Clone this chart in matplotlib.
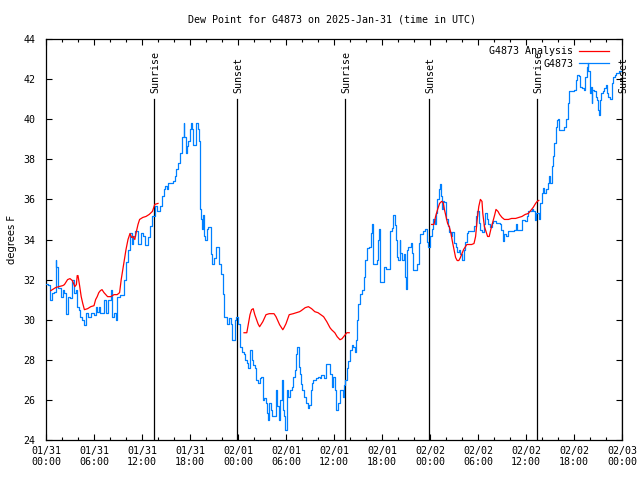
import numpy as np
import matplotlib
matplotlib.use("Agg")
import matplotlib.pyplot as plt
from matplotlib.ticker import MultipleLocator

# ---- data (hours since 2025-01-31 00:00 UTC) ----
obs_hours = [0.0, 0.25, 0.5, 0.8, 1.0, 1.2, 1.3, 1.5, 1.9, 2.1, 2.3, 2.5, 2.7, 3.0, 3.3, 3.5, 3.7, 3.9,
             4.1, 4.3, 4.5, 4.7, 5.0, 5.2, 5.6, 6.0, 6.2, 6.4, 6.6, 6.8, 7.25, 7.5, 7.7, 8.1, 8.3, 8.5,
             8.7, 8.9, 9.2, 9.6, 9.8, 10.0, 10.2, 10.5, 10.7, 10.9, 11.1, 11.5, 11.9, 12.1, 12.4, 12.7,
             13.0, 13.3, 13.6, 13.9, 14.25, 14.5, 14.7, 14.9, 15.1, 15.3, 15.7, 15.9, 16.1, 16.3, 16.55,
             16.75, 17.0, 17.2, 17.3, 17.45, 17.6, 17.8, 18.0, 18.1, 18.3, 18.4, 18.7, 18.8, 19.0, 19.1,
             19.2, 19.3, 19.4, 19.5, 19.6, 19.8, 19.9, 20.1, 20.3, 20.6, 20.8, 21.0, 21.2, 21.4, 21.6,
             21.9, 22.1, 22.3, 22.6, 22.9, 23.1, 23.3, 23.6, 23.8, 24.0, 24.2, 24.3, 24.5, 24.7, 24.9,
             25.1, 25.3, 25.5, 25.7, 25.9, 26.1, 26.3, 26.5, 26.7, 26.9, 27.1, 27.3, 27.5, 27.6, 27.8,
             27.9, 28.1, 28.3, 28.6, 28.7, 28.9, 29.1, 29.3, 29.5, 29.6, 29.8, 29.9, 30.1, 30.3, 30.5,
             30.7, 30.9, 31.1, 31.3, 31.4, 31.6, 31.7, 31.9, 32.0, 32.25, 32.5, 32.7, 32.9, 33.1, 33.2,
             33.4, 33.7, 34.0, 34.2, 34.4, 34.7, 35.0, 35.3, 35.5, 35.7, 35.9, 36.1, 36.3, 36.5, 36.7,
             36.9, 37.1, 37.2, 37.4, 37.6, 37.8, 38.0, 38.2, 38.4, 38.6, 38.7, 38.9, 39.0, 39.25, 39.5,
             39.7, 39.9, 40.1, 40.4, 40.6, 40.7, 40.9, 41.2, 41.4, 41.5, 41.6, 41.7, 41.8, 42.0, 42.3,
             42.5, 42.8, 43.0, 43.3, 43.4, 43.6, 43.7, 43.9, 44.0, 44.2, 44.3, 44.5, 44.7, 44.9, 45.0,
             45.1, 45.3, 45.6, 45.75, 45.9, 46.2, 46.4, 46.6, 46.8, 47.1, 47.4, 47.6, 47.8, 48.0, 48.25,
             48.4, 48.6, 48.7, 48.9, 49.1, 49.2, 49.35, 49.5, 49.6, 49.8, 50.0, 50.2, 50.4, 50.6, 50.8,
             51.0, 51.2, 51.4, 51.6, 51.8, 52.0, 52.2, 52.4, 52.6, 52.8, 53.2, 53.5, 53.7, 53.9, 54.1,
             54.3, 54.5, 54.7, 54.9, 55.1, 55.3, 55.5, 55.7, 55.9, 56.3, 56.7, 56.9, 57.1, 57.3, 57.5,
             57.7, 58.3, 58.5, 58.7, 58.9, 59.2, 59.5, 59.9, 60.1, 60.3, 60.7, 60.9, 61.1, 61.3, 61.6,
             61.75, 62.0, 62.1, 62.3, 62.5, 62.7, 62.9, 63.0, 63.2, 63.4, 63.5, 63.7, 63.9, 64.0, 64.1,
             64.4, 64.75, 65.0, 65.2, 65.4, 65.8, 66.0, 66.2, 66.4, 66.6, 66.8, 67.0, 67.3, 67.4, 67.6,
             67.7, 67.8, 67.95, 68.1, 68.2, 68.3, 68.5, 68.7, 68.9, 69.0, 69.1, 69.2, 69.4, 69.6, 69.8,
             70.0, 70.1, 70.3, 70.5, 70.7, 70.9, 71.1, 71.3, 71.6, 72.0]
obs_values = [31.8, 31.75, 31.0, 31.35, 31.4, 33.0, 32.65, 31.6, 31.15, 31.5, 31.35, 30.3, 31.15, 31.1,
              32.0, 31.35, 31.5, 30.65, 30.5, 30.15, 30.0, 29.75, 30.35, 30.15, 30.35, 30.25, 30.65,
              30.4, 30.65, 30.35, 31.0, 30.35, 31.0, 31.5, 30.15, 30.35, 30.0, 31.15, 31.25, 31.25,
              32.0, 32.9, 33.5, 34.3, 33.8, 34.15, 34.4, 33.8, 34.3, 34.15, 33.75, 34.1, 34.65, 35.15,
              35.65, 35.4, 35.65, 36.15, 36.5, 36.65, 36.5, 36.8, 36.8, 36.9, 37.15, 37.5, 37.8, 38.3,
              39.1, 39.8, 39.1, 38.3, 38.65, 38.9, 39.5, 39.8, 39.5, 38.7, 38.9, 39.8, 39.5, 38.9, 37.5,
              35.5, 35.0, 34.5, 35.2, 34.15, 34.0, 34.5, 34.6, 33.3, 32.8, 33.1, 33.65, 33.65, 32.8,
              32.3, 31.3, 30.15, 29.8, 30.1, 29.8, 29.0, 30.0, 30.15, 29.8, 28.9, 28.65, 28.4, 28.3,
              28.0, 27.85, 27.6, 28.5, 28.0, 27.75, 27.6, 27.0, 26.85, 27.1, 27.15, 26.0, 26.1, 25.85,
              25.35, 25.0, 25.85, 25.5, 25.2, 25.2, 26.5, 25.7, 25.0, 26.0, 27.0, 25.5, 25.2, 24.5,
              26.5, 26.15, 26.5, 26.65, 27.15, 27.5, 28.3, 28.65, 27.65, 27.3, 26.8, 26.5, 26.15,
              25.85, 25.6, 25.75, 26.5, 26.85, 27.0, 27.1, 27.15, 27.1, 27.25, 27.1, 27.8, 27.8, 27.3,
              26.65, 27.15, 26.5, 25.5, 25.85, 26.5, 26.5, 26.15, 26.75, 27.0, 27.6, 27.95, 28.5,
              28.75, 28.65, 28.4, 29.0, 30.0, 30.8, 31.3, 31.5, 32.15, 33.0, 33.6, 33.65, 34.3, 34.75,
              32.8, 32.8, 33.0, 34.0, 34.5, 32.55, 31.9, 31.9, 32.65, 32.55, 32.55, 34.4, 34.55, 35.2,
              34.7, 34.0, 33.15, 33.0, 34.0, 33.35, 33.0, 33.3, 32.15, 31.55, 33.5, 33.65, 33.85, 33.35,
              32.5, 32.5, 32.8, 33.85, 34.25, 34.4, 34.5, 33.9, 33.65, 34.15, 34.5, 35.0, 34.75, 35.3,
              36.0, 36.5, 36.75, 36.15, 35.5, 35.9, 35.85, 35.0, 34.65, 34.35, 34.15, 34.35, 33.85,
              33.65, 33.4, 33.5, 33.3, 33.0, 33.5, 33.9, 34.3, 34.4, 34.4, 34.65, 35.15, 35.4, 34.8,
              34.45, 34.35, 34.75, 35.3, 35.0, 34.75, 34.6, 34.8, 34.9, 34.8, 34.75, 34.45, 33.95,
              34.25, 34.15, 34.4, 34.4, 34.45, 34.75, 34.45, 34.45, 34.95, 34.9, 35.15, 35.4, 35.5,
              35.4, 34.95, 35.3, 35.0, 35.8, 36.3, 36.55, 36.3, 36.5, 36.8, 37.15, 36.8, 37.65, 38.15,
              38.8, 39.6, 39.95, 40.0, 39.45, 39.45, 39.6, 40.0, 40.8, 41.4, 41.4, 41.45, 41.95, 42.2,
              42.15, 41.6, 41.55, 41.45, 42.1, 42.6, 42.8, 42.4, 41.3, 41.6, 40.8, 41.45, 41.4, 41.1,
              40.95, 40.45, 40.2, 40.95, 41.3, 41.4, 41.55, 41.7, 41.3, 41.1, 41.0, 41.8, 42.1, 42.2,
              42.3, 42.4, 42.4]

ana_hours_1 = [0.6, 1.2, 1.6, 2.1, 2.3, 2.7, 3.0, 3.3, 3.6, 3.8, 3.9, 4.0, 4.2, 4.4, 4.6, 4.8, 5.2, 5.6,
               6.0, 6.2, 6.4, 6.6, 6.8, 7.0, 7.25, 7.7, 8.1, 8.5, 8.9, 9.2, 9.4, 9.6, 9.8, 10.0, 10.25,
               10.5, 10.7, 10.9, 11.1, 11.3, 11.5, 11.7, 12.1, 12.5, 12.9, 13.3, 13.6, 14.0]
ana_values_1 = [31.45, 31.6, 31.65, 31.7, 31.75, 32.0, 32.05, 31.95, 31.65, 31.75, 32.2, 32.2, 31.7,
                31.15, 30.8, 30.5, 30.55, 30.65, 30.7, 31.0, 31.15, 31.35, 31.45, 31.5, 31.35, 31.15,
                31.15, 31.25, 31.25, 31.35, 32.0, 32.5, 33.0, 33.5, 34.0, 34.3, 34.1, 34.15, 34.0, 34.4,
                34.75, 35.0, 35.1, 35.15, 35.25, 35.4, 35.75, 35.8]
ana_hours_2 = [24.75, 25.1, 25.3, 25.5, 25.7, 25.9, 26.1, 26.5, 26.7, 27.1, 27.5, 27.9, 28.5, 28.75,
               29.2, 29.6, 29.75, 30.0, 30.4, 30.9, 31.3, 31.7, 31.9, 32.4, 32.8, 33.2, 33.6, 34.0,
               34.7, 35.1, 35.5, 35.7, 36.1, 36.4, 36.75, 37.0, 37.4, 37.6, 37.9]
ana_values_2 = [29.35, 29.35, 29.8, 30.25, 30.5, 30.55, 30.25, 29.8, 29.65, 29.9, 30.25, 30.3, 30.3,
                30.15, 29.75, 29.5, 29.6, 29.8, 30.25, 30.3, 30.35, 30.4, 30.45, 30.6, 30.65, 30.55,
                30.4, 30.35, 30.15, 29.9, 29.6, 29.5, 29.35, 29.15, 29.0, 29.05, 29.25, 29.35, 29.35]
ana_hours_3 = [48.2, 48.5, 48.7, 48.95, 49.2, 49.45, 49.65, 49.8, 50.0, 50.2, 50.4, 50.6, 50.8, 51.0,
               51.2, 51.4, 51.6, 51.8, 52.0, 52.2, 52.6, 53.2, 53.5, 53.7, 53.9, 54.1, 54.3, 54.5,
               54.6, 54.8, 55.0, 55.2, 55.4, 55.6, 55.8, 56.1, 56.25, 56.5, 56.7, 57.0, 57.3, 57.8,
               58.2, 58.7, 59.1, 59.5, 59.9, 60.3, 60.5, 60.9, 61.2, 61.4, 61.6]
ana_values_3 = [34.75, 34.75, 35.15, 35.5, 35.8, 35.9, 35.85, 35.5, 35.15, 34.8, 34.65, 34.35, 33.9,
                33.5, 33.1, 32.95, 32.95, 33.1, 33.3, 33.5, 33.75, 33.75, 33.8, 34.15, 35.0, 35.65,
                36.0, 35.9, 35.3, 34.65, 34.4, 34.15, 34.15, 34.5, 34.8, 35.25, 35.5, 35.4, 35.25, 35.1,
                35.0, 35.0, 35.05, 35.05, 35.1, 35.15, 35.25, 35.3, 35.4, 35.6, 35.8, 35.9, 35.95]

sun_hours = [13.53, 23.93, 37.38, 47.92, 61.42, 71.97]
sun_labels = ["Sunrise", "Sunset", "Sunrise", "Sunset", "Sunrise", "Sunset"]

tick_hours = [0, 6, 12, 18, 24, 30, 36, 42, 48, 54, 60, 66, 72]
tick_labels = ["01/31\n00:00", "01/31\n06:00", "01/31\n12:00", "01/31\n18:00",
               "02/01\n00:00", "02/01\n06:00", "02/01\n12:00", "02/01\n18:00",
               "02/02\n00:00", "02/02\n06:00", "02/02\n12:00", "02/02\n18:00",
               "02/03\n00:00"]
y_ticks = [24, 26, 28, 30, 32, 34, 36, 38, 40, 42, 44]

title = "Dew Point for G4873 on 2025-Jan-31 (time in UTC)"

# ---- plot ----
FS = 7.2
plt.rcParams['font.family'] = ['DejaVu Sans Mono']
plt.rcParams['font.size'] = FS

fig = plt.figure(figsize=(6.4, 4.8), dpi=100)
ax = fig.add_axes([46/640, 1 - 440/480, 576/640, 401/480])

ax.plot(obs_hours, obs_values, color='#0080ff', lw=0.9, drawstyle='steps-post', label='G4873', zorder=3)
ana_h = ana_hours_1 + [np.nan] + ana_hours_2 + [np.nan] + ana_hours_3
ana_v = ana_values_1 + [np.nan] + ana_values_2 + [np.nan] + ana_values_3
ax.plot(ana_h, ana_v, color='#ff0000', lw=0.9, label='G4873 Analysis', zorder=4)

for h, lab in zip(sun_hours, sun_labels):
    ax.plot([h, h], [24, 41.0], color='black', lw=0.9, zorder=2)
    ax.text(h + 0.15, 41.3, lab, rotation=90, ha='center', va='bottom', fontsize=FS, clip_on=False)

ax.set_xlim(0, 72)
ax.set_ylim(24, 44)
ax.set_xticks(tick_hours)
ax.set_xticklabels(tick_labels)
ax.xaxis.set_minor_locator(MultipleLocator(2))
ax.set_yticks(y_ticks)
ax.tick_params(axis='both', which='both', direction='in', top=True, right=True, labelsize=FS)
ax.tick_params(which='major', length=4, width=0.8)
ax.tick_params(which='minor', length=2.2, width=0.8)
ax.tick_params(axis='x', pad=4)
ax.tick_params(axis='y', pad=7.5)
for s in ax.spines.values():
    s.set_linewidth(0.9)

ax.set_ylabel("degrees F", fontsize=FS, family=['DejaVu Sans'])
ax.yaxis.set_label_coords(-0.051, 0.5)
fig.text(332/640, 1 - 19/480, title, ha='center', va='center', fontsize=FS)

handles, labels = ax.get_legend_handles_labels()
leg = ax.legend(handles[::-1], labels[::-1], loc='upper right', frameon=False, markerfirst=False,
                handlelength=3.0, handletextpad=0.6, borderpad=0.1, borderaxespad=1.2,
                labelspacing=0.25, fontsize=FS)
leg.set_bbox_to_anchor((1.0, 1.0 + 0.8 * 7.2 / 100 * 72 / 401 * 100 / 72), transform=ax.transAxes)

fig.savefig("out.png", dpi=100)
